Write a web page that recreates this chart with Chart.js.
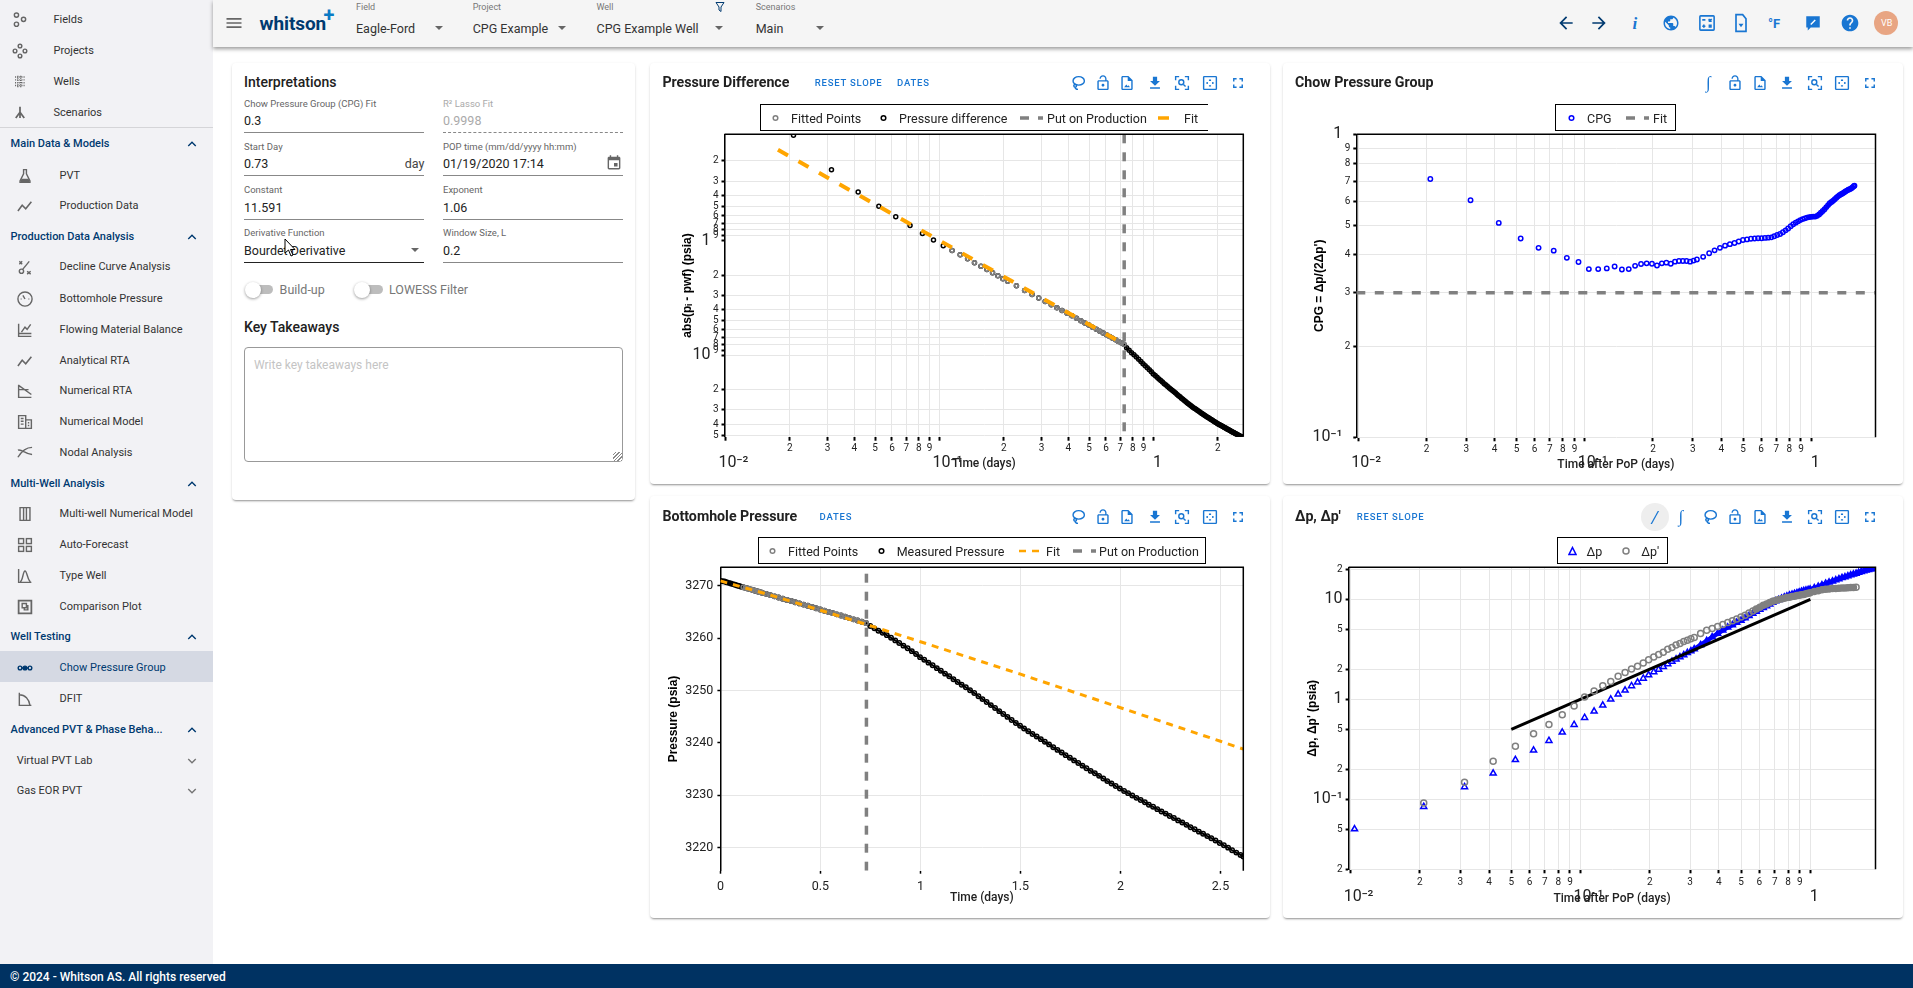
<!DOCTYPE html>
<html>
<head>
<meta charset="utf-8">
<title>Chow Pressure Group</title>
<script src="https://cdn.jsdelivr.net/npm/chart.js@4/dist/chart.umd.js"></script>
<style>
  html, body { margin: 0; padding: 0; background: #fff; }
  body { width: 1913px; height: 988px; overflow: hidden; position: relative; font-family: Roboto, "Liberation Sans", sans-serif; color: #212121; }
  .txt { position: absolute; white-space: nowrap; transform: translateY(-50%); line-height: 1.2; }
  .ico { position: absolute; transform: translate(-50%, -50%); }
  .box { position: absolute; box-sizing: border-box; }
  .card { position: absolute; background: #fff; border-radius: 4px; box-shadow: 0 2px 2px -1px rgba(0,0,0,.35), 0 1px 3px rgba(0,0,0,.12); }
  .card canvas { position: absolute; left: 0; top: 0; }
  #side { position: absolute; left: 0; top: 0; width: 213px; height: 964px; background: #f2f2f5; }
  #top { position: absolute; left: 213px; top: 0; right: 0; height: 47px; background: #f5f5f5; box-shadow: 0 2px 4px rgba(0,0,0,.4); }
  #foot { position: absolute; left: 0; top: 964px; width: 1913px; height: 24px; background: #003262; }
</style>
</head>
<body>
<div id="side"></div>
<div id="top"></div>
<div id="foot"></div>
<script>
// Time axis shared by the pressure plots (days)
const timeDays = [0, 0.0104, 0.0208, 0.0313, 0.0417, 0.0521, 0.0625, 0.0729, 0.0833, 0.0938, 0.1042, 0.1146, 0.125, 0.1354, 0.1458, 0.1563, 0.1667, 0.1771, 0.1875, 0.1979, 0.2083,
  0.229, 0.25, 0.271, 0.291, 0.312, 0.333, 0.354, 0.374, 0.395, 0.416, 0.437, 0.458, 0.478, 0.499, 0.52, 0.541, 0.562, 0.582, 0.603, 0.624, 0.645, 0.666, 0.686, 0.707, 0.728,
  0.749, 0.77, 0.79, 0.811, 0.832, 0.853, 0.874, 0.894, 0.915, 0.936, 0.957, 0.978, 0.998, 1.019, 1.04, 1.061, 1.082, 1.102, 1.123, 1.144, 1.165, 1.186, 1.206, 1.227,
  1.248, 1.269, 1.29, 1.31, 1.331, 1.352, 1.373, 1.394, 1.414, 1.435, 1.456, 1.477, 1.498, 1.518, 1.539, 1.56, 1.581, 1.602, 1.622, 1.643, 1.664, 1.685, 1.706, 1.726,
  1.747, 1.768, 1.789, 1.81, 1.83, 1.851, 1.872, 1.893, 1.914, 1.934, 1.955, 1.976, 1.997, 2.018, 2.038, 2.059, 2.08, 2.101, 2.122, 2.142, 2.163, 2.184, 2.205, 2.226,
  2.246, 2.267, 2.288, 2.309, 2.33, 2.35, 2.371, 2.392, 2.413, 2.434, 2.454, 2.475, 2.496, 2.517, 2.538, 2.558, 2.579, 2.6, 2.614];

// abs(pi - pwf), starts at timeDays[1]
const pressureDiff = [0.05, 0.119, 0.239, 0.374, 0.499, 0.614, 0.735, 0.863, 0.98, 1.105, 1.214, 1.325, 1.435, 1.556, 1.663, 1.78, 1.9, 2.02, 2.145, 2.25,
  2.47, 2.71, 2.94, 3.16, 3.39, 3.62, 3.84, 4.06, 4.29, 4.52, 4.75, 4.98, 5.21, 5.44, 5.68, 5.92, 6.15, 6.38, 6.61, 6.85, 7.09, 7.33, 7.56, 7.79, 8.02,
  8.6, 9.05, 9.5, 9.9, 10.35, 10.85, 11.35, 11.85, 12.35, 12.85, 13.4, 13.95, 14.55, 15.05, 15.6, 16.1, 16.65, 17.15, 17.7, 18.2, 18.75, 19.3, 19.8, 20.3,
  20.85, 21.4, 22, 22.55, 23.1, 23.7, 24.25, 24.85, 25.4, 25.95, 26.55, 27.1, 27.65, 28.15, 28.7, 29.2, 29.7, 30.2, 30.7, 31.2, 31.75, 32.25, 32.75, 33.25,
  33.75, 34.25, 34.75, 35.25, 35.75, 36.25, 36.7, 37.2, 37.7, 38.2, 38.65, 39.15, 39.6, 40.1, 40.5, 40.95, 41.4, 41.8, 42.25, 42.7, 43.1, 43.55, 44, 44.4,
  44.85, 45.25, 45.7, 46.1, 46.55, 47, 47.4, 47.85, 48.25, 48.7, 49.1, 49.55, 50, 50.4, 50.8, 51.2, 51.6, 52, 52.3];

// Bottomhole pressure (psia), same grid as timeDays
const measuredPressure = [3270.9, 3270.85, 3270.78, 3270.66, 3270.53, 3270.4, 3270.29, 3270.17, 3270.04, 3269.92, 3269.8, 3269.69, 3269.58, 3269.47, 3269.34, 3269.24, 3269.12, 3269, 3268.88, 3268.76, 3268.65,
  3268.43, 3268.19, 3267.96, 3267.74, 3267.51, 3267.28, 3267.06, 3266.84, 3266.61, 3266.38, 3266.15, 3265.92, 3265.69, 3265.46, 3265.22, 3264.98, 3264.75, 3264.52, 3264.29, 3264.05, 3263.81, 3263.57, 3263.34, 3263.11, 3262.88,
  3262.3, 3261.85, 3261.4, 3261, 3260.55, 3260.05, 3259.55, 3259.05, 3258.55, 3258.05, 3257.5, 3256.95, 3256.35, 3255.85, 3255.3, 3254.8, 3254.25, 3253.75, 3253.2, 3252.7, 3252.15, 3251.6, 3251.1, 3250.6,
  3250.05, 3249.5, 3248.9, 3248.35, 3247.8, 3247.2, 3246.65, 3246.05, 3245.5, 3244.95, 3244.35, 3243.8, 3243.25, 3242.75, 3242.2, 3241.7, 3241.2, 3240.7, 3240.2, 3239.7, 3239.15, 3238.65, 3238.15, 3237.65,
  3237.15, 3236.65, 3236.15, 3235.65, 3235.15, 3234.65, 3234.2, 3233.7, 3233.2, 3232.7, 3232.25, 3231.75, 3231.3, 3230.8, 3230.4, 3229.95, 3229.5, 3229.1, 3228.65, 3228.2, 3227.8, 3227.35, 3226.9, 3226.5,
  3226.05, 3225.65, 3225.2, 3224.8, 3224.35, 3223.9, 3223.5, 3223.05, 3222.65, 3222.2, 3221.8, 3221.35, 3220.9, 3220.45, 3220, 3219.5, 3219.05, 3218.6, 3218.3];

// Window of fitted points and the put on production time
const fitFromDay = 0.11;
const fitToDay = 0.73;
const popDay = 0.73;

// Fit lines
const fitDiffTime = [0.0176, 0.73];
const fitDiffValues = [0.16, 8.0];
const fitPressureTime = [0, 0.25, 0.5, 0.75, 1, 1.25, 1.5, 1.75, 2, 2.25, 2.5, 2.614];
const fitPressureValues = [3270.9, 3268.2, 3265.3, 3262.35, 3259.3, 3256.2, 3253.1, 3249.9, 3246.7, 3243.5, 3240.3, 3238.8];

// Time after PoP (days)
const popTime = [0.0104, 0.0208, 0.0313, 0.0417, 0.0521, 0.0625, 0.0729, 0.0833, 0.0938, 0.1042, 0.1146, 0.125, 0.1354, 0.1458, 0.1563, 0.1667, 0.1771, 0.1875, 0.1979, 0.2083, 0.2188, 0.2292, 0.2396, 0.25, 0.2604, 0.2708, 0.2813, 0.2917, 0.3021, 0.3125,
  0.333, 0.354, 0.374, 0.395, 0.416, 0.437, 0.458, 0.478, 0.499, 0.52, 0.541, 0.562, 0.582, 0.603, 0.624, 0.645, 0.666, 0.686, 0.707, 0.728, 0.749, 0.77, 0.79, 0.811, 0.832, 0.853, 0.874, 0.894, 0.915, 0.936, 0.957, 0.978, 0.998,
  1.04, 1.082, 1.123, 1.165, 1.206, 1.248, 1.29, 1.331, 1.373, 1.414, 1.456, 1.498, 1.539, 1.581, 1.622, 1.664, 1.706, 1.747, 1.789, 1.83, 1.872, 1.914];

const deltaP = [0.0505, 0.0845, 0.133, 0.182, 0.249, 0.309, 0.386, 0.468, 0.558, 0.656, 0.759, 0.871, 1, 1.122, 1.23, 1.36, 1.48, 1.62, 1.75, 1.88, 1.99, 2.12, 2.26, 2.39, 2.52, 2.65, 2.78, 2.92, 3.05, 3.18,
  3.5, 3.85, 4.2, 4.55, 4.9, 5.25, 5.55, 5.85, 6.15, 6.5, 6.85, 7.2, 7.55, 7.9, 8.25, 8.6, 8.95, 9.3, 9.6, 9.9, 10.2, 10.5, 10.75, 11, 11.2, 11.4, 11.6, 11.8, 12, 12.15, 12.3, 12.45, 12.6,
  13, 13.4, 13.9, 14.4, 14.8, 15.2, 15.6, 16, 16.4, 16.7, 17.1, 17.5, 17.8, 18.1, 18.5, 18.9, 19.2, 19.5, 19.8, 20, 20.3, 20.6];

// Derivative starts at popTime[1] and stops before deltaP does
const deltaPPrime = [0.0919, 0.148, 0.24, 0.339, 0.454, 0.562, 0.703, 0.858, 1.055, 1.21, 1.37, 1.51, 1.7, 1.86, 2.01, 2.14, 2.31, 2.49, 2.65, 2.8, 2.95, 3.16, 3.3, 3.5, 3.62, 3.78, 3.9, 4.03, 4.15,
  4.55, 4.9, 5.1, 5.35, 5.6, 5.85, 6.1, 6.35, 6.65, 6.95, 7.3, 7.65, 8, 8.35, 8.7, 9, 9.3, 9.55, 9.75, 9.95, 10.1, 10.25, 10.4, 10.5, 10.65, 10.75, 10.9, 11, 11.1, 11.2, 11.35, 11.5, 11.65,
  12, 12.2, 12.45, 12.6, 12.7, 12.8, 12.85, 12.9, 12.95, 13, 13.05, 13.1, 13.15, 13.2];

// Unit slope guide on the delta p plot
const slopeTime = [0.05, 1];
const slopeValues = [0.5, 10];

// Chow pressure group
const cpgTime = [0.0208, 0.0313, 0.0417, 0.0521, 0.0625, 0.0729, 0.0833, 0.0938, 0.1042, 0.1146, 0.125, 0.1354, 0.1458, 0.1563, 0.1667, 0.1771, 0.1875, 0.1979, 0.2083, 0.2188, 0.2292, 0.2396, 0.25, 0.2604, 0.2708, 0.2813, 0.2917, 0.3021, 0.3125,
  0.333, 0.354, 0.374, 0.395, 0.416, 0.437, 0.458, 0.478, 0.499, 0.52, 0.541, 0.562, 0.582, 0.603, 0.624, 0.645, 0.666, 0.686, 0.707, 0.728, 0.749, 0.77, 0.79, 0.811, 0.832, 0.853, 0.874, 0.894, 0.915, 0.936, 0.957, 0.978, 0.998,
  1.019, 1.04, 1.061, 1.082, 1.102, 1.123, 1.144, 1.165, 1.186, 1.206, 1.227, 1.248, 1.269, 1.29, 1.31, 1.331, 1.352, 1.373, 1.394, 1.414, 1.435, 1.456, 1.477, 1.498, 1.518, 1.539, 1.55];
const cpgValues = [0.712, 0.606, 0.51, 0.453, 0.422, 0.413, 0.391, 0.379, 0.359, 0.359, 0.361, 0.366, 0.358, 0.359, 0.368, 0.373, 0.375, 0.374, 0.369, 0.375, 0.377, 0.374, 0.38, 0.382, 0.382, 0.382, 0.38, 0.383, 0.386,
  0.394, 0.405, 0.414, 0.422, 0.429, 0.434, 0.438, 0.443, 0.448, 0.45, 0.452, 0.453, 0.454, 0.454, 0.455, 0.456, 0.457, 0.461, 0.465, 0.469, 0.475, 0.482, 0.489, 0.497, 0.505, 0.511, 0.516, 0.521, 0.525, 0.528, 0.531, 0.533, 0.534,
  0.535, 0.535, 0.538, 0.544, 0.551, 0.558, 0.566, 0.575, 0.584, 0.592, 0.598, 0.604, 0.611, 0.618, 0.624, 0.629, 0.634, 0.638, 0.643, 0.648, 0.652, 0.656, 0.659, 0.663, 0.668, 0.674, 0.677];
const cpgFitTime = [0.0098, 1.92];
const cpgFitValues = [0.3, 0.3];

// Tick values
const logTimeTicksLong = [0.01, 0.02, 0.03, 0.04, 0.05, 0.06, 0.07, 0.08, 0.09, 0.1, 0.2, 0.3, 0.4, 0.5, 0.6, 0.7, 0.8, 0.9, 1, 2];
const logTimeTicks = [0.01, 0.02, 0.03, 0.04, 0.05, 0.06, 0.07, 0.08, 0.09, 0.1, 0.2, 0.3, 0.4, 0.5, 0.6, 0.7, 0.8, 0.9, 1];
const diffTicks = [0.2, 0.3, 0.4, 0.5, 0.6, 0.7, 0.8, 0.9, 1, 2, 3, 4, 5, 6, 7, 8, 9, 10, 20, 30, 40, 50];
const diffNoGrid = [1, 9];
const cpgTicks = [0.1, 0.2, 0.3, 0.4, 0.5, 0.6, 0.7, 0.8, 0.9, 1];
const deltaTicks = [0.02, 0.05, 0.1, 0.2, 0.5, 1, 2, 5, 10, 20];
const linearTimeTicks = [0, 0.5, 1, 1.5, 2, 2.5];
const pressureTicks = [3220, 3230, 3240, 3250, 3260, 3270];
const pressureNoGrid = [3240, 3260];

const BLACK = "#000000", GREY = "#808080", ORANGE = "#ffa500", BLUE = "#0000ff", GRID = "#e6e6e6";
const UI_BLUE = "#1976d2", NAVY = "#003a70";
const minorFont = { family: "Roboto", size: 10 };
const decadeFont = { family: "Roboto", size: 16, lineHeight: 0.84 };
const xTitleFont = { family: "Roboto", size: 12, weight: "500" };
const yTitleFont = { family: "'Liberation Sans'", size: 12, weight: "bold" };

function points(xs, ys) {
  return ys.map((y, i) => ({ x: xs[i], y: y }));
}

function inFitWindow(list) {
  return list.filter(p => p.x >= fitFromDay && p.x <= fitToDay);
}

function isDecade(v) {
  const e = Math.log10(v);
  return Math.abs(e - Math.round(e)) < 1e-6;
}

function decadeLabel(v) {
  const e = Math.round(Math.log10(v));
  if (e === 0) return "1";
  if (e === 1) return "10";
  return e === -1 ? "10⁻¹" : "10⁻²";
}

function mantissa(v) {
  return String(v).replace(/[0.]/g, "");
}

function gridColor(skip) {
  return c => (c.tick && skip.includes(c.tick.value) ? "transparent" : GRID);
}

function xLogAxis(ticks, min, max, title, height, pad, titleGap) {
  return {
    type: "logarithmic", min: min, max: max,
    afterBuildTicks: s => { s.ticks = ticks.map(v => ({ value: v })); },
    afterFit: s => { s.height = height; },
    border: { display: false },
    grid: { color: GRID, tickColor: BLACK, tickWidth: 2, tickLength: 4 },
    ticks: {
      autoSkip: false, maxRotation: 0, minRotation: 0, padding: pad, color: "#222",
      font: c => (c.tick && isDecade(c.tick.value) ? decadeFont : minorFont),
      callback: v => {
        if (!isDecade(v)) return mantissa(v);
        return ["", (v === 1 ? "  " : "    ") + decadeLabel(v)];
      }
    },
    title: { display: true, text: title, font: xTitleFont, color: "#222", padding: { top: 0, bottom: titleGap } }
  };
}

function yLogAxis(ticks, min, max, title, width, reverse, bigGap, noGrid) {
  return {
    type: "logarithmic", min: min, max: max, reverse: reverse,
    afterBuildTicks: s => { s.ticks = ticks.map(v => ({ value: v })); },
    afterFit: s => { s.width = width; },
    border: { display: true, color: BLACK, width: 1.5 },
    grid: { color: gridColor(noGrid || []), tickColor: BLACK, tickWidth: 2, tickLength: 3 },
    ticks: {
      autoSkip: false, padding: 3, color: "#222",
      font: c => (c.tick && isDecade(c.tick.value) ? decadeFont : minorFont),
      callback: v => (isDecade(v) ? decadeLabel(v) + bigGap : mantissa(v))
    },
    title: { display: true, text: title, font: yTitleFont, color: BLACK, padding: 0 }
  };
}

function markers(label, data, color, radius, style) {
  return { label: label, data: data, showLine: false, pointStyle: style || "circle", pointRadius: radius, pointBorderColor: color, pointBackgroundColor: "transparent", pointBorderWidth: 1.5 };
}

// Where markers crowd together the reference reads as a solid band
function band(ds, width, fromX) {
  const color = ds.pointBorderColor;
  ds.showLine = true;
  ds.borderWidth = width;
  ds.borderColor = color;
  ds.segment = { borderColor: c => (c.p0.parsed.x >= fromX ? color : "transparent") };
  return ds;
}

function line(label, data, color, width, dash) {
  return { label: label, data: data, showLine: true, borderColor: color, borderWidth: width, borderDash: dash || [], pointRadius: 0, tension: 0 };
}

// Plot frame: only top and right, the left side comes from the y axis
const framePlugin = {
  id: "frame",
  afterDatasetsDraw(chart) {
    const a = chart.chartArea, c = chart.ctx;
    c.save();
    c.strokeStyle = BLACK;
    c.lineWidth = 1.5;
    c.beginPath();
    c.moveTo(a.left, a.top);
    c.lineTo(a.right, a.top);
    c.lineTo(a.right, a.bottom);
    c.stroke();
    c.restore();
  }
};

function makeChart(host, w, h, padding, datasets, scales) {
  const cv = document.createElement("canvas");
  cv.width = w;
  cv.height = h;
  cv.style.width = w + "px";
  cv.style.height = h + "px";
  host.appendChild(cv);
  return new Chart(cv, {
    type: "scatter",
    data: { datasets: datasets },
    options: {
      responsive: false, animation: false, events: [],
      layout: { padding: padding },
      plugins: { legend: { display: false }, tooltip: { enabled: false } },
      scales: scales
    },
    plugins: [framePlugin]
  });
}

// Page helpers
const ICONS = {
  menu: '<path fill="currentColor" stroke="none" d="M3 18h18v-2H3v2zm0-5h18v-2H3v2zm0-7v2h18V6H3z"/>',
  up: '<path fill="currentColor" stroke="none" d="M12 8l-6 6 1.41 1.41L12 10.83l4.59 4.58L18 14z"/>',
  down: '<path fill="currentColor" stroke="none" d="M16.59 8.59L12 13.17 7.41 8.59 6 10l6 6 6-6z"/>',
  back: '<path fill="currentColor" stroke="none" d="M20 11H7.83l5.59-5.59L12 4l-8 8 8 8 1.41-1.41L7.83 13H20v-2z"/>',
  forward: '<path fill="currentColor" stroke="none" d="M12 4l-1.41 1.41L16.17 11H4v2h12.17l-5.58 5.59L12 20l8-8z"/>',
  help: '<path fill="currentColor" stroke="none" d="M12 2C6.48 2 2 6.48 2 12s4.48 10 10 10 10-4.48 10-10S17.52 2 12 2zm1 17h-2v-2h2v2zm2.07-7.75l-.9.92C13.45 12.9 13 13.5 13 15h-2v-.5c0-1.1.45-2.1 1.17-2.83l1.24-1.26c.37-.36.59-.86.59-1.41 0-1.1-.9-2-2-2s-2 .9-2 2H8c0-2.21 1.79-4 4-4s4 1.79 4 4c0 .88-.36 1.68-.93 2.25z"/>',
  globe: '<path fill="currentColor" stroke="none" d="M12 2C6.48 2 2 6.48 2 12s4.48 10 10 10 10-4.48 10-10S17.52 2 12 2zm-1 17.93c-3.95-.49-7-3.85-7-7.93 0-.62.08-1.21.21-1.79L9 15v1c0 1.1.9 2 2 2v1.93zm6.9-2.54c-.26-.81-1-1.39-1.9-1.39h-1v-3c0-.55-.45-1-1-1H8v-2h2c.55 0 1-.45 1-1V7h2c1.1 0 2-.9 2-2v-.41c2.93 1.19 5 4.06 5 7.41 0 2.08-.8 3.97-2.1 5.39z"/>',
  calendar: '<path fill="currentColor" stroke="none" d="M17 12h-5v5h5v-5zM16 1v2H8V1H6v2H5c-1.11 0-1.99.9-1.99 2L3 19c0 1.1.89 2 2 2h14c1.1 0 2-.9 2-2V5c0-1.1-.9-2-2-2h-1V1h-2zm3 18H5V8h14v11z"/>',
  lock: '<path fill="currentColor" stroke="none" d="M12 17c1.1 0 2-.9 2-2s-.9-2-2-2-2 .9-2 2 .9 2 2 2zm6-9h-1V6c0-2.76-2.24-5-5-5S7 3.24 7 6h1.9c0-1.71 1.39-3.1 3.1-3.1 1.71 0 3.1 1.39 3.1 3.1v2H6c-1.1 0-2 .9-2 2v10c0 1.1.9 2 2 2h12c1.1 0 2-.9 2-2V10c0-1.1-.9-2-2-2zm0 12H6V10h12v10z"/>',
  image: '<path fill="currentColor" stroke="none" d="M14 2H6c-1.1 0-2 .9-2 2v16c0 1.1.9 2 2 2h12c1.1 0 2-.9 2-2V8l-6-6zm4 18H6V4h7v5h5v11zM8 18l3-4 2 2.5 1.5-1.5L16 18z"/>',
  download: '<path fill="currentColor" stroke="none" d="M19 9h-4V3H9v6H5l7 7 7-7zM5 18v2h14v-2H5z"/>',
  full: '<path fill="currentColor" stroke="none" d="M7 14H5v5h5v-2H7v-3zm-2-4h2V7h3V5H5v5zm12 7h-3v2h5v-5h-2v3zM14 5v2h3v3h2V5h-5z"/>',
  lasso: '<ellipse cx="13" cy="9" rx="8" ry="6"/><circle cx="8" cy="16" r="2"/><path d="M8 18c0 2 2 3 4 3"/>',
  zoom: '<path d="M3 8V3h5M16 3h5v5M21 16v5h-5M8 21H3v-5"/><circle cx="11" cy="11" r="3.5"/><path d="M14 14l3 3"/>',
  auto: '<rect x="3" y="3" width="18" height="18" rx="1"/><path d="M12 7v2M12 15v2M7 12h2M15 12h2" stroke-width="3"/>',
  calc: '<rect x="3" y="3" width="18" height="18" rx="1"/><path d="M6 8h4M14 7l4 3M18 7l-4 3M6 16h4M8 14v4M14 15h4M14 17h4"/>',
  fileDown: '<path d="M14 2H6v20h12V7z"/><path fill="currentColor" stroke="none" d="M9 13h6l-3 4z"/>',
  chat: '<path fill="currentColor" stroke="none" d="M3 3h18v15H9l-4 4v-4H3z"/><path stroke="#fff" d="M9 14l6-6"/>',
  funnel: '<path d="M4 3h16l-6 9v9l-4-3v-6z"/>',
  fields: '<circle cx="7" cy="5" r="3"/><circle cx="17" cy="11" r="3"/><circle cx="7" cy="18" r="3"/>',
  projects: '<circle cx="12" cy="5" r="2.6"/><circle cx="5" cy="12" r="2.6"/><circle cx="19" cy="12" r="2.6"/><circle cx="12" cy="19" r="2.6"/>',
  wells: '<path stroke-dasharray="1.5 1.5" d="M5 5h14M5 9h14M5 13h14M5 17h14M9 3v18M13 3v18"/>',
  tree: '<path stroke-width="2.5" d="M12 3v8M12 11l-6 8M12 11l6 8M12 11v8"/>',
  flask: '<path d="M9 3h6M10 3v6l-5 10v2h14v-2l-5-10V3"/><path fill="currentColor" stroke="none" d="M7 16h10l2 5H5z"/>',
  trend: '<path stroke-width="2.2" d="M2 19l6-8 5 5 8-10"/>',
  decline: '<path d="M4 4l4 4M8 4l-4 4M15 18l5 4M20 18l-5 4"/><circle cx="7" cy="18" r="3"/><path d="M9 15l9-11"/>',
  gauge: '<circle cx="12" cy="12" r="10"/><path d="M12 12l-3-5M6 12h1M17 12h1"/>',
  chartUp: '<path d="M3 3v18h18M3 17h18M7 15l5-7 3 3 5-7"/>',
  chartDown: '<path d="M3 3v18h18M3 4l18 13M3 10h14"/>',
  grid: '<path d="M3 21V3h10v18zM13 9h8v12h-8M6 7h4M6 11h4M6 15h4M16 13h2M16 17h2"/>',
  nodal: '<path d="M2 8c6-2 10 6 20 6M2 18C8 8 16 4 22 4"/>',
  columns: '<path d="M5 3h14v18H5zM10 3v18M14 3v18"/>',
  tiles: '<rect x="3" y="3" width="7" height="7"/><rect x="14" y="3" width="7" height="7"/><rect x="3" y="14" width="7" height="7"/><rect x="14" y="14" width="7" height="7"/>',
  bell: '<path d="M3 2v19h18M5 20C9 20 9 5 12 5s4 15 8 15"/>',
  compare: '<path stroke-width="2.5" d="M3 3h18v18H3z"/><path d="M8 7h6v6H8zM11 13v3h5v-6h-2"/>',
  chain: '<circle cx="5" cy="12" r="2.6"/><circle cx="19" cy="12" r="2.6"/><circle cx="12" cy="12" r="2.6" fill="currentColor"/><path d="M7 12h3M14 12h3"/>',
  dfit: '<path d="M4 3v18h17M4 6c8 0 14 6 15 15"/>'
};

function icon(parent, name, x, y, size, color) {
  const d = document.createElement("div");
  d.className = "ico";
  d.style.cssText = `left:${x}px;top:${y}px;width:${size}px;height:${size}px;color:${color}`;
  d.innerHTML = `<svg viewBox="0 0 24 24" width="${size}" height="${size}" fill="none" stroke="currentColor" stroke-width="2" style="display:block">${ICONS[name]}</svg>`;
  parent.appendChild(d);
}

function text(parent, str, x, y, css) {
  const d = document.createElement("div");
  d.className = "txt";
  d.style.cssText = `left:${x}px;top:${y}px;${css || ""}`;
  d.textContent = str;
  parent.appendChild(d);
  return d;
}

function rect(parent, x, y, w, h, css) {
  const d = document.createElement("div");
  d.className = "box";
  d.style.cssText = `left:${x}px;top:${y}px;width:${w}px;height:${h}px;${css}`;
  parent.appendChild(d);
  return d;
}

function dropArrow(parent, x, y, color) {
  const d = rect(parent, x - 4, y - 2, 0, 0, `border-left:4px solid transparent;border-right:4px solid transparent;border-top:4px solid ${color || "#666"}`);
  return d;
}

const body = document.body;
const side = document.getElementById("side");

// Sidebar: [label, y, icon, kind]
const sideRows = [
  ["Fields", 20, "fields", "top"], ["Projects", 51, "projects", "top"], ["Wells", 82, "wells", "top"], ["Scenarios", 112.5, "tree", "top"],
  ["Main Data & Models", 144, null, "head"], ["PVT", 175.5, "flask"], ["Production Data", 206, "trend"],
  ["Production Data Analysis", 236.5, null, "head"], ["Decline Curve Analysis", 267, "decline"], ["Bottomhole Pressure", 298.5, "gauge"],
  ["Flowing Material Balance", 329.5, "chartUp"], ["Analytical RTA", 360.5, "trend"], ["Numerical RTA", 390.5, "chartDown"], ["Numerical Model", 421.5, "grid"], ["Nodal Analysis", 452.5, "nodal"],
  ["Multi-Well Analysis", 483.5, null, "head"], ["Multi-well Numerical Model", 513.5, "columns"], ["Auto-Forecast", 544.5, "tiles"], ["Type Well", 575.5, "bell"], ["Comparison Plot", 606.5, "compare"],
  ["Well Testing", 636.5, null, "head"], ["Chow Pressure Group", 667.5, "chain", "active"], ["DFIT", 698.5, "dfit"],
  ["Advanced PVT & Phase Beha...", 729.5, null, "head"], ["Virtual PVT Lab", 760.5, null, "sub"], ["Gas EOR PVT", 790.5, null, "sub"]
];
rect(side, 0, 127, 213, 1, "background:#d5d5d8");
rect(side, 0, 651, 213, 31, "background:#d5d9e3");
sideRows.forEach(r => {
  const [label, y, ic, kind] = r;
  if (kind === "top") {
    text(side, label, 53.5, y, "font-size:11px;color:#333");
    icon(side, ic, 19.6, y, 17, "#666");
  } else if (kind === "head") {
    text(side, label, 10.6, y, `font-size:11px;font-weight:500;color:${NAVY}`);
    icon(side, "up", 192, y, 17, NAVY);
  } else if (kind === "sub") {
    text(side, label, 16.7, y, "font-size:11px;color:#333");
    icon(side, "down", 192, y, 17, "#777");
  } else {
    text(side, label, 59.6, y, `font-size:11px;color:${kind === "active" ? NAVY : "#333"}`);
    icon(side, ic, 25.3, y, 17, kind === "active" ? NAVY : "#666");
  }
});

// Top bar
icon(body, "menu", 234, 23, 20, "#666");
text(body, "whitson", 259.6, 24, `font-size:19px;font-weight:700;color:${NAVY};letter-spacing:-.1px`);
text(body, "+", 323.5, 14.5, "font-size:20px;font-weight:700;color:#0a7ac4");
const topSelects = [
  ["Field", "Eagle-Ford", 356, 438.8], ["Project", "CPG Example", 472.7, 562],
  ["Well", "CPG Example Well", 596.5, 719.4], ["Scenarios", "Main", 755.7, 820]
];
topSelects.forEach(s => {
  text(body, s[0], s[2], 6.7, "font-size:9px;color:#777");
  text(body, s[1], s[2], 27.7, "font-size:12.5px;color:#333");
  dropArrow(body, s[3], 27.7);
});
icon(body, "funnel", 720, 7, 12, NAVY);
icon(body, "back", 1565.8, 23, 20, NAVY);
icon(body, "forward", 1599.4, 23, 20, NAVY);
text(body, "i", 1632.5, 23.5, `font-size:17px;font-style:italic;font-weight:700;font-family:'Liberation Serif';color:${UI_BLUE}`);
icon(body, "globe", 1671, 23, 18, UI_BLUE);
icon(body, "calc", 1707, 23, 19, UI_BLUE);
icon(body, "fileDown", 1741, 23, 20, UI_BLUE);
text(body, "°F", 1768, 23.5, `font-size:13px;font-weight:700;color:${UI_BLUE}`);
icon(body, "chat", 1813, 23, 18, UI_BLUE);
icon(body, "help", 1850, 23, 20, UI_BLUE);
rect(body, 1874.4, 11, 24, 24, "background:#e8a583;border-radius:50%");
text(body, "VB", 1881, 23, "font-size:9px;color:#fff");

// Footer
text(body, "© 2024 - Whitson AS. All rights reserved", 10, 977, "font-size:12px;font-weight:500;color:#fff");

// Interpretations card
const left = document.createElement("div");
left.className = "card";
left.style.cssText = "left:232px;top:63px;width:403px;height:437px";
body.appendChild(left);
text(body, "Interpretations", 244, 81.7, "font-size:14px;font-weight:500");
const fields = [
  ["Chow Pressure Group (CPG) Fit", "0.3", 244, 103.7, 119.7, 132.3],
  ["R² Lasso Fit", "0.9998", 443, 103.7, 119.7, 132.3, "dim"],
  ["Start Day", "0.73", 244, 146.7, 162.7, 175],
  ["POP time (mm/dd/yyyy hh:mm)", "01/19/2020 17:14", 443, 146.7, 162.7, 175],
  ["Constant", "11.591", 244, 190, 206.7, 218.7],
  ["Exponent", "1.06", 443, 190, 206.7, 218.7],
  ["Derivative Function", "Bourdet Derivative", 244, 232.7, 249.7, 261.7, "dark"],
  ["Window Size, L", "0.2", 443, 232.7, 249.7, 261.7]
];
fields.forEach(f => {
  const [label, value, x, ly, vy, uy, mode] = f;
  text(body, label, x, ly, `font-size:9.5px;color:${mode === "dim" ? "#aaa" : "#666"}`);
  text(body, value, x, vy, `font-size:12.5px;color:${mode === "dim" ? "#aaa" : "#222"}`);
  const border = mode === "dim" ? "border-top:1px dashed #888" : mode === "dark" ? "border-top:1px solid #222" : "border-top:1px solid #888";
  rect(body, x, uy, x === 244 ? 180 : 179.5, 1, border);
});
text(body, "day", 404.8, 162.7, "font-size:12.5px;color:#444");
icon(body, "calendar", 613.5, 162.7, 17, "#666");
dropArrow(body, 414.7, 249.7);
[[252, "Build-up", 279.6], [361.6, "LOWESS Filter", 389]].forEach(s => {
  rect(body, s[0], 285, 21, 9, "background:#bdbdbd;border-radius:5px");
  rect(body, s[0] - 7.5, 281.5, 16, 16, "background:#fff;border-radius:50%;box-shadow:0 1px 3px rgba(0,0,0,.4)");
  text(body, s[1], s[2], 289.3, "font-size:12.5px;color:#777");
});
text(body, "Key Takeaways", 244, 327, "font-size:14px;font-weight:500");
rect(body, 244, 346.7, 378.5, 115, "border:1px solid #999;border-radius:4px");
text(body, "Write key takeaways here", 254, 364.7, "font-size:12px;color:#c4c4c4");
rect(body, 613, 452, 9, 9, "background:repeating-linear-gradient(135deg,#fff 0 1.5px,#888 1.5px 2.5px)");
// Mouse pointer left in the screenshot
const mouse = document.createElement("div");
mouse.style.cssText = "position:absolute;left:284px;top:238px;z-index:5";
mouse.innerHTML = '<svg width="12" height="19" viewBox="0 0 12 19"><path d="M1 1v14l3.5-3 2.5 6 2-1-2.5-5.500H11z" fill="#fff" stroke="#000" stroke-width="1"/></svg>';
body.appendChild(mouse);

function makeCard(x, y, w, h, title, titleX, links, icons, headY) {
  const c = document.createElement("div");
  c.className = "card";
  c.style.cssText = `left:${x}px;top:${y}px;width:${w}px;height:${h}px`;
  body.appendChild(c);
  text(body, title, titleX, headY + 0.7, "font-size:14.2px;font-weight:700;z-index:2");
  links.forEach(l => text(body, l[0], l[1], headY, `font-size:9.5px;font-weight:500;letter-spacing:.8px;color:${UI_BLUE};z-index:2`));
  icons.forEach(i => {
    if (i[0] === "integral") text(body, "∫", i[1] - 4, headY, `font-size:17px;font-style:italic;color:${UI_BLUE};z-index:2;font-family:'Liberation Serif'`);
    else if (i[0] === "slope") {
      rect(body, i[1] - 14, headY - 14, 28, 28, "background:#eeeeee;border-radius:50%;z-index:1");
      text(body, "/", i[1] - 3, headY, `font-size:17px;font-style:italic;color:${UI_BLUE};z-index:2`);
    } else {
      icon(body, i[0], i[1], headY, 17, UI_BLUE);
    }
  });
  return c;
}

// Legend swatches and box, built from the same colours as the datasets
function swatch(kind, color, w) {
  if (kind === "circle") return `<svg width="${w}" height="10" style="display:block"><circle cx="${w / 2}" cy="5" r="${w > 7 ? 3 : 2.3}" fill="none" stroke="${color}" stroke-width="1.5"/></svg>`;
  if (kind === "triangle") return `<svg width="${w}" height="10" style="display:block"><path d="M${w / 2} 1.500L${w - 1} 8.500H1z" fill="none" stroke="${color}" stroke-width="1.5"/></svg>`;
  const dash = kind.split(",");
  return `<svg width="${w}" height="10" style="display:block"><line x1="0" x2="${w}" y1="5" y2="5" stroke="${color}" stroke-width="${dash[2]}" stroke-dasharray="${dash[0]} ${dash[1]}"/></svg>`;
}

function makeLegend(x, y, w, h, openRight, items) {
  rect(body, x, y, w, h, `border:1.2px solid #000;${openRight ? "border-right:none;" : ""}z-index:2`);
  const cy = y + h / 2;
  items.forEach(it => {
    const d = document.createElement("div");
    d.style.cssText = `position:absolute;left:${it.sx}px;top:${cy - 5}px;z-index:3`;
    d.innerHTML = swatch(it.kind, it.color, it.w);
    body.appendChild(d);
    text(body, it.label, it.tx, cy + 0.3, "font-size:12.5px;color:#222;z-index:3");
  });
}

const plotIcons = (xs, names) => names.map((n, i) => [n, xs[i]]);
const chartIcons = ["lasso", "lock", "image", "download", "zoom", "auto", "full"];
const col1Icons = [1078, 1103, 1127, 1155, 1182, 1210, 1238];

// Pressure Difference
const card1 = makeCard(650, 63, 620, 421, "Pressure Difference", 662.4, [["RESET SLOPE", 814.7], ["DATES", 897]], plotIcons(col1Icons, chartIcons), 82.7);
const diffPts = points(timeDays.slice(1), pressureDiff);
makeChart(card1, 620, 421, { left: 30.8, right: 26.7, top: 71.3, bottom: 11.3 }, [
  line("Fit", points(fitDiffTime, fitDiffValues), ORANGE, 4, [11.5, 12]),
  line("Put on Production", [{ x: popDay, y: 0.117 }, { x: popDay, y: 51.5 }], GREY, 3.5, [9, 9]),
  band(markers("Fitted Points", inFitWindow(diffPts), GREY, 2), 1.8, 0.3),
  band(markers("Pressure difference", diffPts, BLACK, 2), 2, 0.7)
], {
  x: xLogAxis(logTimeTicksLong, 0.0099, 2.63, "Time (days)", 36, 2, 1.5),
  y: yLogAxis(diffTicks, 0.117, 51.5, "abs(pᵢ - pwf) (psia)", 43.7, true, "  ", diffNoGrid)
});
makeLegend(759.6, 104.3, 448.4, 27, true, [
  { kind: "circle", color: GREY, w: 7, sx: 772, label: "Fitted Points", tx: 791 },
  { kind: "circle", color: BLACK, w: 7, sx: 879.5, label: "Pressure difference", tx: 899 },
  { kind: "9,9,3.5", color: GREY, w: 23, sx: 1020, label: "Put on Production", tx: 1047 },
  { kind: "11,0,3.5", color: ORANGE, w: 11, sx: 1158, label: "Fit", tx: 1184 }
]);

// Chow Pressure Group
const col2Icons = [1710, 1735.4, 1759.6, 1787, 1815, 1842.4, 1869.8];
const card2 = makeCard(1283, 63, 620, 421, "Chow Pressure Group", 1295, [], plotIcons(col2Icons, ["integral", "lock", "image", "download", "zoom", "auto", "full"]), 82.7);
makeChart(card2, 620, 421, { left: 29.8, right: 27.5, top: 71.3, bottom: 10.7 }, [
  line("Fit", points(cpgFitTime, cpgFitValues), GREY, 3.5, [9, 9.500]),
  band(markers("CPG", points(cpgTime, cpgValues), BLUE, 2.2), 2.5, 0.95)
], {
  x: xLogAxis(logTimeTicks, 0.0098, 1.92, "Time after PoP (days)", 36, 2, 1.5),
  y: yLogAxis(cpgTicks, 0.1, 1, "CPG = Δp/(2Δp')", 43.5, false, "  ")
});
makeLegend(1555.3, 104.3, 121.1, 27, false, [
  { kind: "circle", color: BLUE, w: 7, sx: 1567.5, label: "CPG", tx: 1587 },
  { kind: "9,9,3.5", color: GREY, w: 23, sx: 1626.4, label: "Fit", tx: 1653 }
]);

// Bottomhole Pressure
const card3 = makeCard(650, 496, 620, 422, "Bottomhole Pressure", 662.4, [["DATES", 819.6]], plotIcons(col1Icons, chartIcons), 516.7);
const pressurePts = points(timeDays, measuredPressure);
makeChart(card3, 620, 422, { left: 16.3, right: 26.7, top: 71.3, bottom: 11.3 }, [
  line("Fit", points(fitPressureTime, fitPressureValues), ORANGE, 3, [7, 6]),
  line("Put on Production", [{ x: popDay, y: 3215.6 }, { x: popDay, y: 3273.5 }], GREY, 3.5, [9, 9]),
  band(markers("Fitted Points", inFitWindow(pressurePts), GREY, 2.2), 2, 0),
  band(markers("Measured Pressure", pressurePts, BLACK, 2.2), 2, 0)
], {
  x: {
    type: "linear", min: 0, max: 2.614,
    afterBuildTicks: s => { s.ticks = linearTimeTicks.map(v => ({ value: v })); },
    afterFit: s => { s.height = 36; },
    border: { display: false },
    grid: { color: GRID, tickColor: BLACK, tickWidth: 1.5, tickLength: 3 },
    ticks: { autoSkip: false, maxRotation: 0, padding: 5.5, color: "#222", font: { family: "Roboto", size: 12.5 }, callback: v => String(v) },
    title: { display: true, text: "Time (days)", font: xTitleFont, color: "#222", padding: { top: 0, bottom: 1.5 } }
  },
  y: {
    type: "linear", min: 3215.6, max: 3273.5,
    afterBuildTicks: s => { s.ticks = pressureTicks.map(v => ({ value: v })); },
    afterFit: s => { s.width = 54.1; },
    border: { display: true, color: BLACK, width: 1.5 },
    grid: { color: gridColor(pressureNoGrid), tickColor: BLACK, tickWidth: 1.5, tickLength: 3 },
    ticks: { autoSkip: false, padding: 4, color: "#222", font: { family: "Roboto", size: 12.5 }, callback: v => String(v) },
    title: { display: true, text: "Pressure (psia)", font: yTitleFont, color: BLACK, padding: 0 }
  }
});
makeLegend(757.6, 537.3, 448.9, 27, false, [
  { kind: "circle", color: GREY, w: 7, sx: 769.2, label: "Fitted Points", tx: 788 },
  { kind: "circle", color: BLACK, w: 7, sx: 877.5, label: "Measured Pressure", tx: 896.7 },
  { kind: "7,6,2.5", color: ORANGE, w: 21, sx: 1019, label: "Fit", tx: 1046 },
  { kind: "9,9,3.5", color: GREY, w: 23, sx: 1072.6, label: "Put on Production", tx: 1099 }
]);

// Delta p and derivative
const card4 = makeCard(1283, 496, 620, 422, "Δp, Δp'", 1295, [["RESET SLOPE", 1356.7]],
  plotIcons([1654.6, 1682.5, 1710, 1735.4, 1759.6, 1787, 1815, 1842.4, 1869.8], ["slope", "integral", "lasso", "lock", "image", "download", "zoom", "auto", "full"]), 516.7);
makeChart(card4, 620, 422, { left: 22.8, right: 27.5, top: 71.3, bottom: 11.3 }, [
  band(markers("Δp'", points(popTime.slice(1), deltaPPrime), GREY, 3), 6, 0.55),
  line("Slope", points(slopeTime, slopeValues), BLACK, 3),
  band(markers("Δp", points(popTime, deltaP), BLUE, 3.5, "triangle"), 4.5, 0.3)
], {
  x: xLogAxis(logTimeTicks, 0.0098, 1.92, "Time after PoP (days)", 37.4, 3.5, 0.8),
  y: yLogAxis(deltaTicks, 0.02, 20.9, "Δp, Δp' (psia)", 42.8, false, "")
});
makeLegend(1556.5, 537.3, 111.1, 27, false, [
  { kind: "triangle", color: BLUE, w: 9, sx: 1567.5, label: "Δp", tx: 1586.4 },
  { kind: "circle", color: GREY, w: 8, sx: 1622, label: "Δp'", tx: 1641.3 }
]);
</script>
</body>
</html>
